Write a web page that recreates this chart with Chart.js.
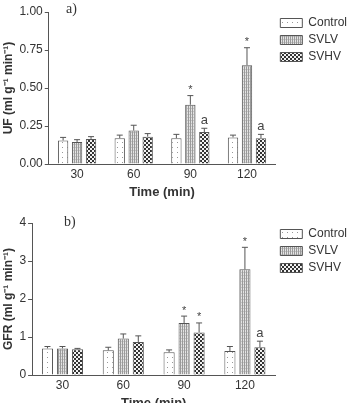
<!DOCTYPE html>
<html lang="en">
<head>
  <meta charset="UTF-8">
  <title>UF and GFR</title>
  <script src="https://cdn.jsdelivr.net/npm/chart.js"></script>
  <style>
    body { margin: 0; background: #fff; font-family: "Liberation Sans", Arial, sans-serif; overflow: hidden; }
    .panel { position: relative; width: 355px; }
    .tag { position: absolute; font-family: "Liberation Serif", serif; font-size: 14px; color: #333; }
  </style>
</head>
<body>
  <div class="panel" style="height:200px">
    <canvas id="ufChart"></canvas>
    <div class="tag" style="left:66px;top:1px">a)</div>
  </div>
  <div class="panel" style="height:203px">
    <canvas id="gfrChart"></canvas>
    <div class="tag" style="left:64px;top:14px">b)</div>
  </div>

  <script>
    const times = ['30', '60', '90', '120'];
    const groups = ['Control', 'SVLV', 'SVHV'];

    // UF (ml g-1 min-1)
    const ufControl = [0.155, 0.17, 0.17, 0.175];
    const ufControlErr = [0.02, 0.02, 0.025, 0.015];
    const ufSvlv = [0.145, 0.22, 0.39, 0.65];
    const ufSvlvErr = [0.015, 0.035, 0.06, 0.115];
    const ufSvhv = [0.165, 0.18, 0.21, 0.17];
    const ufSvhvErr = [0.015, 0.02, 0.025, 0.025];
    const ufSvlvMarks = ['', '', '*', '*'];
    const ufSvhvMarks = ['', '', 'a', 'a'];

    // GFR (ml g-1 min-1)
    const gfrControl = [0.70, 0.65, 0.60, 0.63];
    const gfrControlErr = [0.05, 0.08, 0.06, 0.12];
    const gfrSvlv = [0.70, 0.96, 1.37, 2.78];
    const gfrSvlvErr = [0.05, 0.12, 0.18, 0.58];
    const gfrSvhv = [0.68, 0.87, 1.12, 0.73];
    const gfrSvhvErr = [0.02, 0.16, 0.25, 0.16];
    const gfrSvlvMarks = ['', '', '*', '*'];
    const gfrSvhvMarks = ['', '', '*', 'a'];

    // fill patterns
    function makePattern(kind) {
      const c = document.createElement('canvas');
      const ctx = c.getContext('2d');
      if (kind === 'dots') {
        c.width = 5; c.height = 5;
        ctx.fillStyle = '#fff'; ctx.fillRect(0, 0, 5, 5);
        ctx.fillStyle = '#999'; ctx.fillRect(2, 2, 1, 1);
      } else if (kind === 'lines') {
        c.width = 2; c.height = 3;
        ctx.fillStyle = '#e4e4e4'; ctx.fillRect(0, 0, 2, 3);
        ctx.fillStyle = '#9a9a9a'; ctx.fillRect(0, 0, 1, 3);
        ctx.fillStyle = '#c4c4c4'; ctx.fillRect(1, 0, 1, 1);
      } else {
        c.width = 4; c.height = 4;
        ctx.fillStyle = '#f2f2f2'; ctx.fillRect(0, 0, 4, 4);
        ctx.fillStyle = '#333';
        ctx.fillRect(0, 0, 2, 2); ctx.fillRect(2, 2, 2, 2);
      }
      return ctx.createPattern(c, 'repeat');
    }
    const fills = [makePattern('dots'), makePattern('lines'), makePattern('check')];

    // error bars plus * / a marks, drawn through the y scale
    const errorBars = {
      id: 'errorBars',
      afterDatasetsDraw(chart) {
        const ctx = chart.ctx;
        const y = chart.scales.y;
        chart.data.datasets.forEach((ds, i) => {
          const meta = chart.getDatasetMeta(i);
          meta.data.forEach((bar, j) => {
            const top = y.getPixelForValue(ds.data[j] + ds.err[j]);
            ctx.save();
            ctx.strokeStyle = '#555';
            ctx.lineWidth = 1;
            ctx.beginPath();
            ctx.moveTo(bar.x, bar.y);
            ctx.lineTo(bar.x, top);
            ctx.moveTo(bar.x - 3, top);
            ctx.lineTo(bar.x + 3, top);
            ctx.stroke();
            const m = ds.marks ? ds.marks[j] : '';
            if (m) {
              ctx.fillStyle = '#444';
              ctx.textAlign = 'center';
              ctx.textBaseline = 'bottom';
              ctx.font = m === '*' ? '11px "Liberation Sans"' : '13px "Liberation Sans"';
              ctx.fillText(m, bar.x, top - (m === '*' ? 0 : 1));
            }
            ctx.restore();
          });
        });
      }
    };

    function buildChart(id, values, errs, marks, yMax, yStep, yTitle, decimals, pad) {
      return new Chart(document.getElementById(id), {
        type: 'bar',
        data: {
          labels: times,
          datasets: groups.map((g, i) => ({
            label: g,
            data: values[i],
            err: errs[i],
            marks: marks[i],
            backgroundColor: fills[i],
            borderColor: '#555',
            borderWidth: 1,
            categoryPercentage: 0.74,
            barPercentage: 0.74
          }))
        },
        options: {
          responsive: true,
          maintainAspectRatio: false,
          animation: false,
          layout: { padding: pad },
          plugins: {
            tooltip: { enabled: false },
            legend: {
              position: 'right',
              align: 'start',
              labels: {
                boxWidth: 22,
                boxHeight: 9,
                padding: 5,
                color: '#333',
                font: { size: 12, family: '"Liberation Sans", Arial' }
              }
            }
          },
          scales: {
            x: {
              grid: { display: false, drawTicks: false },
              border: { color: '#555' },
              ticks: { color: '#333', padding: 3, font: { size: 12, family: '"Liberation Sans", Arial' } },
              title: {
                display: true, text: 'Time (min)', color: '#333', padding: 0,
                font: { size: 13, weight: 'bold', family: '"Liberation Sans", Arial' }
              }
            },
            y: {
              min: 0, max: yMax,
              grid: { drawOnChartArea: false, tickLength: 4, color: '#555' },
              border: { color: '#555' },
              ticks: {
                stepSize: yStep, color: '#333', padding: 2,
                font: { size: 12, family: '"Liberation Sans", Arial' },
                callback: v => v.toFixed(decimals)
              },
              title: {
                display: true, text: yTitle, color: '#333', padding: 2,
                font: { size: 12, weight: 'bold', family: '"Liberation Sans", Arial' }
              }
            }
          }
        },
        plugins: [errorBars]
      });
    }

    buildChart('ufChart',
      [ufControl, ufSvlv, ufSvhv],
      [ufControlErr, ufSvlvErr, ufSvhvErr],
      [[], ufSvlvMarks, ufSvhvMarks],
      1.0, 0.25, 'UF (ml g\u207B\u00B9 min\u207B\u00B9)', 2,
      { top: 12, left: -1, right: -2, bottom: 0 });

    buildChart('gfrChart',
      [gfrControl, gfrSvlv, gfrSvhv],
      [gfrControlErr, gfrSvlvErr, gfrSvhvErr],
      [[], gfrSvlvMarks, gfrSvhvMarks],
      4, 1, 'GFR (ml g\u207B\u00B9 min\u207B\u00B9)', 0,
      { top: 23, left: -1, right: -2, bottom: -8 });
  </script>
</body>
</html>
